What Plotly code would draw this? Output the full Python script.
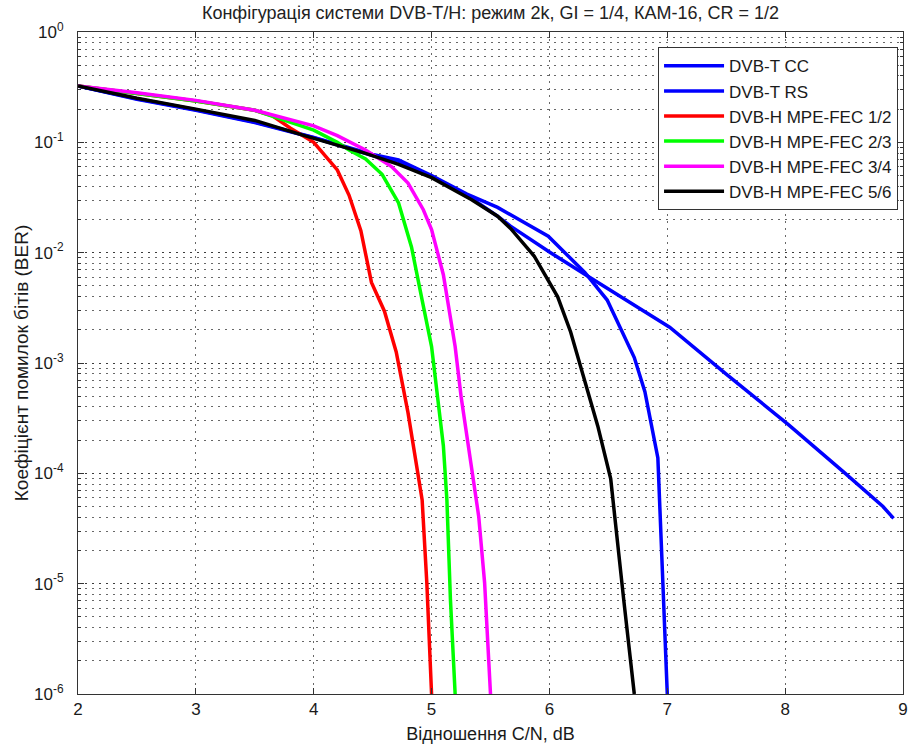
import plotly.graph_objects as go

# ---- data ----
x_cc = [2, 2.5, 3, 3.5, 4.0, 4.5, 4.72, 5.0, 5.3, 5.56, 5.67, 6.01, 6.32, 6.41, 7.02, 7.5, 8.03, 8.5, 8.83, 8.92]
ber_cc = [0.324, 0.245, 0.195, 0.151, 0.110, 0.0759, 0.0676, 0.049, 0.0331, 0.0214, 0.0174, 0.0100, 0.00617,
          0.00537, 0.00211, 7.94e-4, 2.75e-4, 1.02e-4, 5.0e-5, 3.9e-5]

x_rs = [2, 2.5, 3, 3.5, 4.0, 4.5, 4.72, 5.0, 5.3, 5.56, 5.99, 6.30, 6.49, 6.61, 6.72, 6.81, 6.92, 6.94, 7.0]
ber_rs = [0.324, 0.248, 0.197, 0.153, 0.111, 0.0776, 0.0692, 0.0501, 0.0339, 0.0257, 0.0141, 0.00661, 0.00372,
          0.00195, 0.00112, 5.5e-4, 1.38e-4, 4.07e-5, 1.0e-6]

x_12 = [2, 2.5, 3, 3.5, 3.65, 3.8, 4.0, 4.2, 4.3, 4.4, 4.49, 4.6, 4.7, 4.8, 4.89, 4.92, 4.96, 5.0]
ber_12 = [0.324, 0.279, 0.237, 0.195, 0.174, 0.135, 0.100, 0.0562, 0.0331, 0.0158, 0.00537, 0.00295, 0.00126,
          3.55e-4, 9.5e-5, 5.75e-5, 1.0e-5, 1.0e-6]

x_23 = [2, 2.5, 3, 3.5, 3.9, 4.0, 4.2, 4.3, 4.44, 4.58, 4.72, 4.83, 4.92, 5.0, 5.1, 5.13, 5.16, 5.2]
ber_23 = [0.324, 0.279, 0.237, 0.195, 0.141, 0.129, 0.100, 0.0851, 0.0708, 0.0513, 0.0282, 0.0112, 0.00372,
          0.00141, 1.78e-4, 5.75e-5, 7.2e-6, 1.0e-6]

x_34 = [2, 2.5, 3, 3.5, 4.0, 4.2, 4.44, 4.66, 4.8, 4.93, 5.0, 5.1, 5.2, 5.25, 5.4, 5.45, 5.5]
ber_34 = [0.324, 0.282, 0.240, 0.195, 0.141, 0.115, 0.0851, 0.0603, 0.0427, 0.0245, 0.0162, 0.00631, 0.00141,
          5.0e-4, 4.07e-5, 1.02e-5, 1.0e-6]

x_56 = [2, 2.5, 3, 3.5, 3.9, 4.44, 4.72, 5.0, 5.34, 5.56, 5.67, 5.87, 6.07, 6.18, 6.41, 6.52, 6.63, 6.72]
ber_56 = [0.324, 0.251, 0.200, 0.158, 0.117, 0.0794, 0.0631, 0.0479, 0.0302, 0.0214, 0.0166, 0.00933, 0.00398,
          0.00191, 2.69e-4, 8.9e-5, 7.2e-6, 1.0e-6]

series_names = ["DVB-T CC", "DVB-T RS", "DVB-H MPE-FEC 1/2", "DVB-H MPE-FEC 2/3",
                "DVB-H MPE-FEC 3/4", "DVB-H MPE-FEC 5/6"]
series_colors = ["#0000FF", "#0000FF", "#FF0000", "#00FF00", "#FF00FF", "#000000"]

x_ticks = [2, 3, 4, 5, 6, 7, 8, 9]
y_tickvals = [1e-6, 1e-5, 1e-4, 1e-3, 1e-2, 1e-1, 1e0]
y_ticktext = ["10<sup>-6</sup>", "10<sup>-5</sup>", "10<sup>-4</sup>", "10<sup>-3</sup>",
              "10<sup>-2</sup>", "10<sup>-1</sup>", "10<sup>0</sup>"]

title_text = "Конфігурація системи DVB-T/H: режим 2k, GI = 1/4, КАМ-16, CR = 1/2"
x_title = "Відношення C/N, dB"
y_title = "Коефіцієнт помилок бітів (BER)"

# ---- figure ----
FONT = "Liberation Sans, Arial, sans-serif"
fig = go.Figure()
xs = [x_cc, x_rs, x_12, x_23, x_34, x_56]
ys = [ber_cc, ber_rs, ber_12, ber_23, ber_34, ber_56]
for xv, yv, nm, col in zip(xs, ys, series_names, series_colors):
    fig.add_trace(go.Scatter(x=xv, y=yv, mode="lines", name=nm,
                             line=dict(color=col, width=3.5)))

grid_col = "rgba(40,40,40,0.7)"
grid_dash = "1.5px,5.5px"
fig.update_layout(
    width=915, height=747,
    margin=dict(l=78, r=7, t=32, b=52),
    paper_bgcolor="white", plot_bgcolor="white",
    font=dict(family=FONT, size=16, color="#1a1a1a"),
    title=dict(text=title_text, x=0.5, xanchor="center", xref="paper",
               y=1 - 13 / 747, yref="container", yanchor="middle",
               font=dict(size=18, family=FONT, color="#222")),
    showlegend=True,
    legend=dict(x=0.994, y=0.977, xanchor="right", yanchor="top",
                bgcolor="white", bordercolor="#333", borderwidth=1,
                font=dict(size=17, family=FONT), tracegroupgap=0,
                itemwidth=60),
    xaxis=dict(range=[2, 9], tickvals=x_ticks, ticks="inside", ticklen=6,
               tickcolor="#333", showline=True, linecolor="#333", linewidth=1,
               mirror="ticks", showgrid=True, gridcolor=grid_col, griddash=grid_dash,
               gridwidth=1, zeroline=False,
               title=dict(text=x_title, font=dict(size=18), standoff=8),
               tickfont=dict(size=17)),
    yaxis=dict(type="log", range=[-6, 0], tickvals=y_tickvals, ticktext=y_ticktext,
               ticks="inside", ticklen=6, tickcolor="#333", showline=True,
               linecolor="#333", linewidth=1, mirror="ticks",
               showgrid=True, gridcolor=grid_col, griddash=grid_dash, gridwidth=1,
               zeroline=False, ticklabelstandoff=10,
               minor=dict(dtick="D1", ticks="inside", ticklen=3, tickcolor="#333",
                          showgrid=True, gridcolor=grid_col, griddash=grid_dash, gridwidth=1),
               title=dict(text=y_title, font=dict(size=19), standoff=0),
               tickfont=dict(size=17)),
)

fig.write_html("out.html")
